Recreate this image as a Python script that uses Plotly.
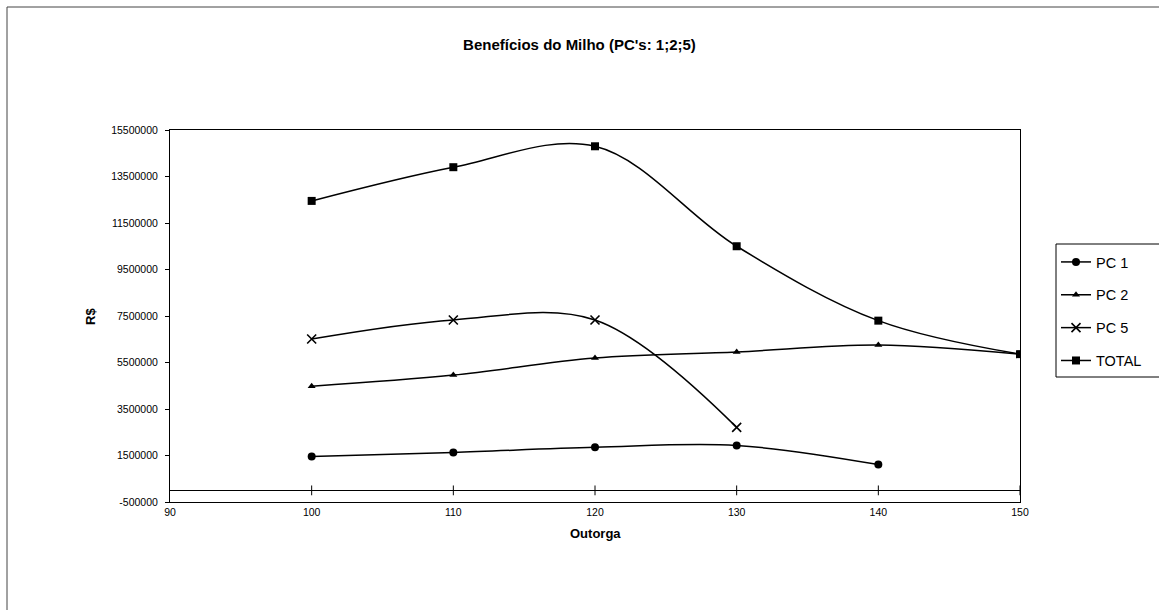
import plotly.graph_objects as go

outorga = [100, 110, 120, 130, 140, 150]
pc1 = [1460000, 1630000, 1850000, 1930000, 1110000]
pc2 = [4480000, 4960000, 5690000, 5950000, 6250000, 5860000]
pc5 = [6510000, 7330000, 7330000, 2710000]
total = [12450000, 13900000, 14800000, 10500000, 7300000, 5860000]

y_ticks = [-500000, 1500000, 3500000, 5500000, 7500000, 9500000, 11500000, 13500000, 15500000]
y_ticklabels = ["-500000", "1500000", "3500000", "5500000", "7500000", "9500000", "11500000", "13500000", "15500000"]
x_ticks = [90, 100, 110, 120, 130, 140, 150]

FONT = "Liberation Sans, Arial, sans-serif"

fig = go.Figure()

series = [
    ("PC 1", outorga[:len(pc1)], pc1, dict(symbol="circle", size=8)),
    ("PC 2", outorga[:len(pc2)], pc2, dict(symbol="triangle-up", size=7)),
    ("PC 5", outorga[:len(pc5)], pc5, dict(symbol="x-thin-open", size=9, line=dict(width=1.6, color="black"))),
    ("TOTAL", outorga[:len(total)], total, dict(symbol="square", size=8)),
]
for name, xs, ys, mk in series:
    mk = dict(mk, color="black")
    fig.add_trace(go.Scatter(
        x=xs, y=ys, name=name, mode="lines+markers",
        line=dict(color="black", width=1.5, shape="spline", smoothing=1.0),
        marker=mk, legendgroup=name,
    ))

# tick marks on the zero-crossing category axis
fig.add_trace(go.Scatter(
    x=x_ticks[1:], y=[0] * (len(x_ticks) - 1), mode="markers",
    marker=dict(symbol="line-ns", size=7, color="black", line=dict(width=1, color="black")),
    showlegend=False, hoverinfo="skip",
))

L, R, T, B = 170, 139, 130, 108
W, H = 1159, 610
pw, ph = W - L - R, H - T - B

def px(x):
    return (x - L) / pw

def py(y):
    return (H - B - y) / ph

fig.update_layout(
    width=W, height=H,
    margin=dict(l=L, r=R, t=T, b=B),
    paper_bgcolor="white", plot_bgcolor="white",
    font=dict(family=FONT, color="black"),
    title=dict(text="<b>Benefícios do Milho (PC's: 1;2;5)</b>", x=0.5, xref="container",
               xanchor="center", y=1 - 45 / H, yanchor="middle", font=dict(size=15, family=FONT)),
    showlegend=True,
    legend=dict(x=px(1056), y=py(246), xanchor="left", yanchor="top",
                borderwidth=0, bgcolor="rgba(0,0,0,0)",
                font=dict(size=14.5, family=FONT), tracegroupgap=11,
                itemwidth=30),
    xaxis=dict(range=[90, 150], tickvals=x_ticks, ticks="", showgrid=False,
               zeroline=False, showline=True, linecolor="black", linewidth=1, mirror=True,
               tickfont=dict(size=10.5, family=FONT)),
    yaxis=dict(range=[-500000, 15500000], tickvals=y_ticks, ticktext=y_ticklabels,
               ticks="outside", ticklen=4, tickcolor="black", showgrid=False,
               zeroline=True, zerolinecolor="black", zerolinewidth=1,
               showline=True, linecolor="black", linewidth=1, mirror=True,
               ticklabelstandoff=5,
               tickfont=dict(size=10.5, family=FONT)),
    annotations=[
        dict(text="<b>R$</b>", x=px(90), y=py(317), xref="paper", yref="paper",
             xanchor="center", yanchor="middle",
             showarrow=False, textangle=-90, font=dict(size=13, family=FONT)),
        dict(text="<b>Outorga</b>", x=0.5, y=py(533), xref="paper", yref="paper",
             xanchor="center", yanchor="middle",
             showarrow=False, font=dict(size=13, family=FONT)),
    ],
    shapes=[
        dict(type="rect", xref="paper", yref="paper", x0=px(7), x1=px(1170),
             y0=py(620), y1=py(7), line=dict(color="#444", width=1)),
        dict(type="rect", xref="paper", yref="paper", x0=px(1056), x1=px(1166),
             y0=py(377), y1=py(244), line=dict(color="black", width=1)),
    ],
)

fig.write_html("out.html")
